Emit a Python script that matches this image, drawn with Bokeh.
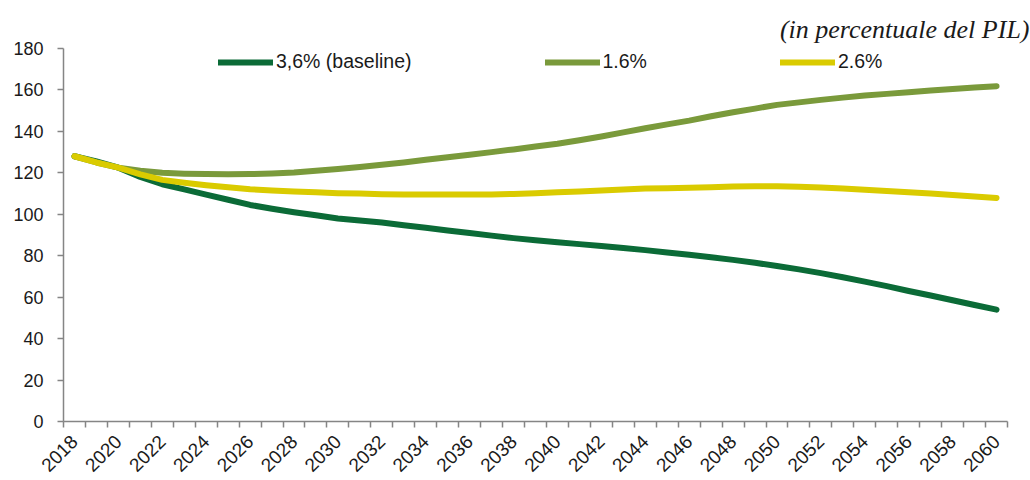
import math
from bokeh.plotting import figure
from bokeh.models import Range1d, FixedTicker, Legend, LegendItem
from bokeh.embed import file_html
from bokeh.resources import INLINE

years = list(range(2018, 2061))
baseline_36 = [128, 125.5, 122.5, 118, 114.5, 112, 109.5, 107, 104.5, 102.7,
               101, 99.5, 98, 97, 96, 94.7, 93.5, 92.2, 91, 89.7,
               88.5, 87.5, 86.5, 85.6, 84.7, 83.7, 82.7, 81.6, 80.5, 79.3,
               78, 76.6, 75, 73.4, 71.6, 69.6, 67.5, 65.3, 63, 60.8,
               58.5, 56.2, 54]
scen_16 = [128, 125, 122.5, 121, 120, 119.6, 119.4, 119.3, 119.4, 119.7,
           120.2, 121, 121.8, 122.8, 123.9, 125, 126.3, 127.5, 128.7, 130,
           131.3, 132.7, 134, 135.7, 137.5, 139.5, 141.5, 143.4, 145.2, 147.3,
           149.2, 151, 152.8, 154, 155.2, 156.3, 157.3, 158.1, 158.9, 159.7,
           160.5, 161.2, 161.8]
scen_26 = [128, 125, 122.5, 119.3, 116.6, 115.2, 114, 113, 112.1, 111.5,
           111, 110.6, 110.2, 110, 109.7, 109.6, 109.5, 109.5, 109.5, 109.6,
           109.8, 110.2, 110.6, 111, 111.5, 112, 112.4, 112.6, 112.8, 113.1,
           113.4, 113.5, 113.5, 113.3, 112.9, 112.4, 111.8, 111.2, 110.6, 110,
           109.3, 108.6, 107.9]
series_names = ["3,6% (baseline)", "1.6%", "2.6%"]
series_colors = ["#0b6b37", "#7a9a3b", "#dacb00"]
label_years = list(range(2018, 2061, 2))
y_ticks = list(range(0, 181, 20))

p = figure(width=1030, height=480, output_backend="svg", toolbar_location=None,
           x_range=Range1d(2017.5, 2060.5), y_range=Range1d(0, 180),
           min_border_left=63, min_border_right=23, min_border_bottom=59, min_border_top=48)
p.outline_line_color = None
p.xgrid.grid_line_color = None
p.ygrid.grid_line_color = None
p.background_fill_color = "white"
p.border_fill_color = "white"

p.title.text = "(in percentuale del PIL)"
p.title.align = "right"
p.title.text_font = "Liberation Serif"
p.title.text_font_style = "italic"
p.title.text_font_size = "26px"
p.title.text_color = "#1a1a1a"
p.title.offset = -22
p.title.standoff = 10

renderers = []
for vals, col in zip([baseline_36, scen_16, scen_26], series_colors):
    r = p.line(years, vals, line_color=col, line_width=6, line_cap="round", line_join="round")
    renderers.append(r)

legend = Legend(items=[LegendItem(label=n, renderers=[r]) for n, r in zip(series_names, renderers)],
                orientation="horizontal", location=(155, 348), spacing=133,
                glyph_width=55, glyph_height=20, label_height=20, label_standoff=3,
                padding=0, margin=0, border_line_color=None, background_fill_alpha=0,
                label_text_font="Liberation Sans", label_text_font_size="19.5px",
                label_text_color="#1a1a1a")
p.add_layout(legend, "center")

ax_color = "#858585"
xa = p.xaxis[0]
xa.ticker = FixedTicker(ticks=label_years, minor_ticks=[y - 0.5 for y in years] + [years[-1] + 0.5])
xa.major_tick_line_color = None
xa.major_tick_out = 0
xa.major_tick_in = 0
xa.minor_tick_line_color = ax_color
xa.minor_tick_line_width = 1.5
xa.minor_tick_out = 6
xa.minor_tick_in = 0
xa.axis_line_color = ax_color
xa.axis_line_width = 1.5
xa.major_label_orientation = math.pi / 4
xa.major_label_standoff = 11
xa.major_label_text_font = "Liberation Sans"
xa.major_label_text_font_size = "19px"
xa.major_label_text_color = "#1a1a1a"

ya = p.yaxis[0]
ya.ticker = FixedTicker(ticks=y_ticks)
ya.minor_tick_line_color = None
ya.major_tick_line_color = ax_color
ya.major_tick_line_width = 1.5
ya.major_tick_out = 6
ya.major_tick_in = 0
ya.axis_line_color = ax_color
ya.axis_line_width = 1.5
ya.major_label_standoff = 14
ya.major_label_text_font = "Liberation Sans"
ya.major_label_text_font_size = "18px"
ya.major_label_text_color = "#1a1a1a"

open("out.html", "w").write(file_html(p, INLINE))
